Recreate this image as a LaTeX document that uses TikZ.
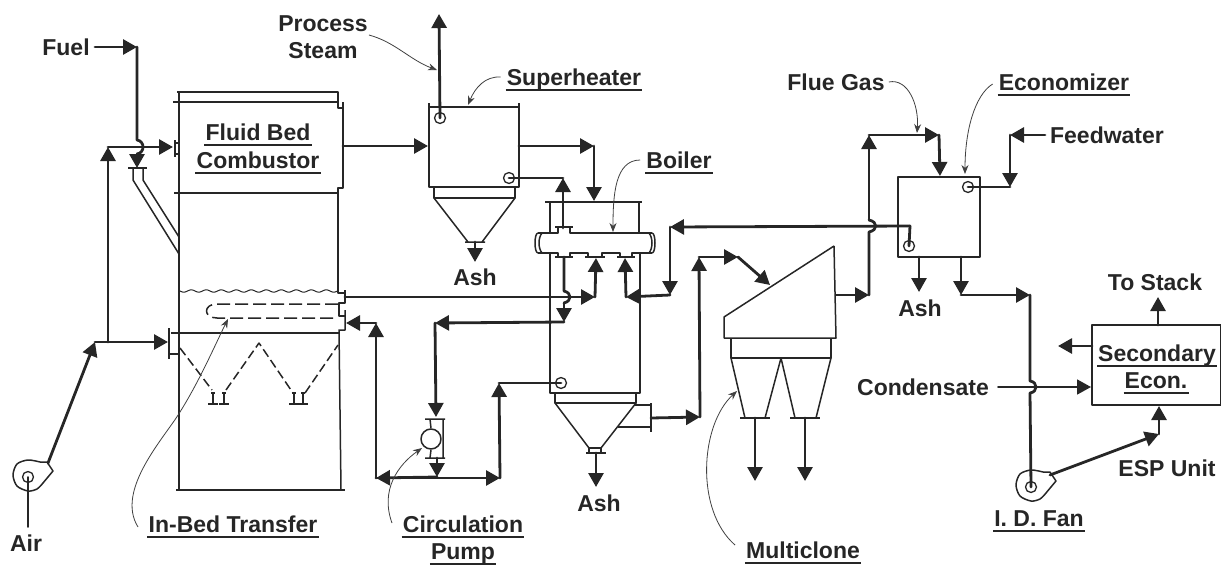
\documentclass[tikz,border=0pt]{standalone}
\usepackage{fontspec}
\setmainfont{Liberation Sans}
\usetikzlibrary{positioning, arrows.meta}

\begin{document}
\begin{tikzpicture}[
      x=1pt, y=-1pt, line join=round,
      font=\fontsize{23}{26}\selectfont\bfseries, text=black!85,
      wall/.style={draw=black!85, line width=1.5pt},
      unit/.style={draw=black!85, line width=1.5pt, rectangle, inner sep=0pt},
      port/.style={draw=black!85, line width=1.3pt, circle, inner sep=0pt, minimum size=11pt},
      pipeline/.style={draw=black!85, line width=2.8pt, line cap=round},
      pipe/.style={pipeline, -{Triangle[length=14pt,width=15pt]}},
      leader/.style={draw=black!75, line width=0.8pt, -{Stealth[length=9pt,width=7pt]}},
      lab/.style={inner xsep=1pt, inner ysep=0pt, text height=21pt, text depth=5pt},
      uline/.style={draw=black!85, line width=1.5pt},
      tube/.style={draw=black!85, line width=1.5pt, dash pattern=on 13pt off 5pt}
    ]
    \useasboundingbox (0,0) rectangle (1221,565);

    % fluid bed combustor
    \draw[wall] (177,92) -- (338,92) -- (338,108) -- (343,108) -- (343,188) -- (338,188) -- (338,293) -- (345,293);
    \draw[wall] (345,290) -- (345,303) -- (339,303) -- (339,316) -- (345,316);
    \draw[wall] (345,310) -- (345,330) -- (339,330) -- (341,490);
    \draw[wall] (179,92) -- (179,490);
    \draw[wall] (173,102) -- (338,102) (343,102) -- (343,108);
    \draw[wall] (174,193) -- (338,193);
    \draw[wall] (176,490) -- (345,490);
    \draw[wall] (171,333) -- (339,333);
    \draw[wall] (169,328) -- (169,359) (169,354) -- (179,354);
    \draw[wall] (175,140) -- (175,157) (175,143) -- (179,143) (175,154) -- (179,154);
    \draw[wall, line width=1pt] plot[domain=179:338, samples=90] (\x, {291+1.2*sin(\x*24)});
    \draw[tube] (338,304) -- (217,304) .. controls (203,304) and (203,318) .. (217,318) -- (338,318);
    \draw[wall, dash pattern=on 9pt off 4pt] (180,348) -- (212,390) (226,390) -- (259,343) -- (293,393) (305,393) -- (338,345);
    \foreach \nx in {213,224,294,303} {
      \draw[wall] (\nx,392) -- (\nx,404) (\nx-5,404) -- (\nx+5,404) (\nx-2,393) -- (\nx+2,393);
    }
    % feed chute
    \draw[wall] (128,168) -- (147,168);
    \draw[wall] (133,168) -- (133,180) -- (179,254) (143,168) -- (143,180) -- (179,237);

    % superheater
    \node[unit, minimum width=90pt, minimum height=80pt] (superheater) at (474,147) {};
    \draw[wall] (429,103) -- (429,107) (519,103) -- (519,107) (434,187) -- (434,198) -- (515,198) -- (515,187);
    \draw[wall] (434,198) -- (468,242) (515,198) -- (482,242) (465,242) -- (485,242);
    \node[port] (shOut) at (440,118) {};
    \node[port] (shIn) at (509,178) {};

    % boiler
    \draw[wall] (545,202) -- (642,202);
    \draw[wall] (550,202) -- (550,233) (639,202) -- (639,233);
    \draw[wall] (550,253) -- (550,393) -- (640,393) -- (640,253);
    \draw[wall] (538,233) -- (558,233) -- (558,227) (555,227) -- (573,227) (570,227) -- (570,233) -- (652,233);
    \draw[wall] (538,253) -- (558,253) -- (558,257) (555,257) -- (573,257) (570,257) -- (570,253) -- (588,253) -- (588,257) (585,257) -- (605,257) (602,257) -- (602,253) -- (620,253) -- (620,257) (617,257) -- (635,257) (632,257) -- (632,253) -- (652,253);
    \draw[wall] (538,233) .. controls (534,233) and (534,253) .. (538,253) (542,233) .. controls (538,238) and (538,248) .. (542,253);
    \draw[wall] (652,233) .. controls (656,233) and (656,253) .. (652,253) (649,233) .. controls (653,238) and (653,248) .. (649,253);
    \draw[wall] (555,393) -- (555,403) -- (636,403) -- (636,393);
    \draw[wall] (555,403) -- (589,448) (636,403) -- (601,448);
    \draw[wall] (586,453) -- (606,453) (589,448) -- (601,448) (589,448) -- (589,453) (601,448) -- (601,453);
    \draw[wall] (635,405) -- (651,405) (618,427) -- (651,427) (651,403) -- (651,432);
    \node[port] (boilerIn) at (561,383) {};

    % circulation pump
    \node[port, minimum size=20pt, line width=1.5pt] (pump) at (431,439) {};
    \draw[wall] (425,419) -- (445,419) (425,458) -- (445,458) (443,419) -- (443,458) (430,419) -- (pump.north) (430,458) -- (pump.south);

    % multiclone
    \draw[wall] (834,246) -- (724,317) -- (724,338) -- (836,338) -- (834,246);
    \draw[wall] (731,338) -- (731,358) -- (831,358) -- (831,338);
    \draw[wall] (731,358) -- (745,418) (765,418) -- (781,358) -- (795,418) (816,418) -- (831,358);
    \draw[wall] (740,418) -- (770,418) (790,418) -- (820,418);

    % economizer and secondary economizer
    \node[unit, minimum width=82pt, minimum height=80pt] (econ) at (939,217) {};
    \node[port] (ecOut) at (968,187) {};
    \node[port] (ecIn) at (909,246) {};
    \node[unit, minimum width=129pt, minimum height=80pt] (secondary) at (1156.5,365) {};

    % fans
    \foreach \n/\fx/\fy in {airFan/28/477, idFan/1031/487} {
      \begin{scope}[shift={(\fx,\fy)}]
        \draw[wall] plot[smooth] coordinates {(12,-15) (0,-17) (-11,-13) (-15,-2) (-11,9) (0,14) (9,12) (15,6)} -- (25,-6) -- (19,-15) -- (12,-15);
        \node[port] (\n) at (0,0) {};
      \end{scope}
    }

    \foreach \n/\px/\py in {
      fuelS/95/47, fuelC/137/47, fuelA/137/140, fuelB/137/154, fuelT/137/168,
      airBlow/48/463, airC/95/342, airT/168/342, airJ/108/342, sideC/108/147, sideT/173/147,
      airEnd/28/527, steamT/439/14, steamB/440/118,
      bedOut/343/146, shT/428/146, shE/519/146, shC/594/146, shD/594/201,
      recU/563/228, rec/563/178, hdrA/564/257, hdrB/564/291, hdrC/564/303, hdrT/564/322,
      retC/435/323, retT/436/417, pumpB/437/458, pumpT/437/477,
      dischL/376/478, dischR/500/478, bedRet/376/323, bedRetT/346/323, dischUp/499/383,
      transS/345/297, transT/595/297, transU/596/258,
      ecLeftT/670/227, ecLeftD/670/295, ecRet/626/297, ecRetU/625/258, ecA/910/226,
      boilOut/651/418, boilOutT/700/417, mcUp/699/257, mcC/738/257, mcIn/770/285,
      mcOut/836/295, mcOutT/869/295, gasA/869/232, gasB/869/220, gasC/869/135, gasD/939/135, gasT/940/176,
      ashMc1a/755/418, ashMc1/755/481, ashMc2a/805/418, ashMc2/805/481, ashBa/596/453, ashB/596/487,
      ashSa/475/242, ashS/475/262, ashEa/919/257, ashE/919/292,
      fwS/1045/135, fwC/1010/135, fwD/1010/187,
      flueA/961/257, flueB/961/295, flueC/1030/295, flueD/1030/381, flueE/1030/393,
      fanOut/1050/475, espC/1159/434, espT/1159/406, stackA/1158/325, stackT/1158/297,
      secL/1092/346, secLT/1058/346, condS/998/387, condT/1091/387} {
      \coordinate (\n) at (\px,\py);
    }

    % pipes with a head at each bend
    \foreach \a/\b in {
      fuelS/fuelC, fuelB/fuelT, airBlow/airC, airC/airT, airJ/sideC, sideC/sideT,
      steamB/steamT, bedOut/shT, shE/shC, shC/shD, recU/rec, hdrC/hdrT, hdrT/retC, retC/retT,
      pumpB/pumpT, dischL/dischR, pumpT/dischL, dischL/bedRet, bedRet/bedRetT, dischR/dischUp,
      transS/transT, transT/transU, ecLeftT/ecLeftD, ecLeftD/ecRet, ecRet/ecRetU,
      boilOut/boilOutT, boilOutT/mcUp, mcUp/mcC, mcC/mcIn, mcOut/mcOutT, gasB/gasC, gasC/gasD, gasD/gasT,
      ashMc1a/ashMc1, ashMc2a/ashMc2, ashBa/ashB, ashSa/ashS, ashEa/ashE,
      fwS/fwC, fwC/fwD, flueA/flueB, flueB/flueC, fanOut/espC, espC/espT, stackA/stackT, secL/secLT} {
      \draw[pipe] (\a) -- (\b);
    }
    \draw[pipe] (ecA) -- (ecLeftT);
    \draw[pipeline] (mcOutT) -- (gasA) .. controls +(9,-2) and +(9,2) .. (gasB);
    \draw[pipeline] (fuelC) -- (fuelA) .. controls +(8,1) and +(8,-1) .. (fuelB);
    \draw[pipeline] (hdrA) -- (hdrB) .. controls +(8,2) and +(8,-2) .. (hdrC);
    \draw[pipeline] (flueC) -- (flueD) .. controls +(8,1) and +(8,-1) .. (flueE) -- (idFan.center);
    \draw[pipeline] (rec) -- (shIn.center);
    \draw[pipeline] (ecA) -- (ecIn.center);
    \draw[pipeline] (dischUp) -- (boilerIn.center);
    \draw[pipeline] (fwD) -- (ecOut.center);
    \draw[pipeline, line width=1.8pt] (airFan.center) -- (airEnd);
    \draw[pipe, line width=1.8pt] (condS) -- (condT);

    % labels
    \foreach \n/\lx/\ly/\t in {
      combA/258/132/Fluid Bed, combB/258/160/Combustor, superLab/574/77/Superheater, boilerLab/679/160/Boiler,
      ecoLab/1064/82/Economizer, secA/1157/353/Secondary, secB/1156/380/Econ., bedLab/233/524/In-Bed Transfer,
      circA/463/524/Circulation, circB/463/551/Pump, mcLab/803/550/Multiclone, fanLab/1039/518/I. D. Fan} {
      \node[lab] (\n) at (\lx,\ly) {\t};
      \draw[uline] (\n.south west) -- (\n.south east);
    }
    \foreach \n/\lx/\ly/\t in {
      fuelLab/66/47/Fuel, airLab/26/543/Air, steamA/323/23/Process, steamC/323/50/Steam, ashLabA/475/277/Ash,
      ashLabB/599/503/Ash, ashLabC/920/308/Ash, flueLab/836/82/Flue Gas, feedLab/1107/135/Feedwater,
      stackLab/1155/282/To Stack, condLab/923/387/Condensate, espLab/1167/468/ESP Unit} {
      \node[lab] (\n) at (\lx,\ly) {\t};
    }

    % leaders
    \draw[leader] (steamA.east |- 0,35) .. controls (395,42) and (410,60) .. (437,70);
    \draw[leader] (superLab.west) ++(-5,0) .. controls (485,76) and (475,88) .. (468,105);
    \draw[leader] (boilerLab.west) ++(-5,0) .. controls (615,160) and (613,195) .. (613,232);
    \draw[leader] (flueLab.east) ++(3,0) .. controls (908,78) and (919,105) .. (917,133);
    \draw[leader] (ecoLab.west) ++(-5,2) .. controls (975,95) and (965,130) .. (965,174);
    \draw[leader] (138,527) .. controls (115,490) and (165,437) .. (180,412) .. controls (200,380) and (215,345) .. (228,319);
    \draw[leader] (392,523) .. controls (380,490) and (398,465) .. (422,448);
    \draw[leader] (735,545) .. controls (695,510) and (700,425) .. (737,391);
  \end{tikzpicture}
\end{document}
